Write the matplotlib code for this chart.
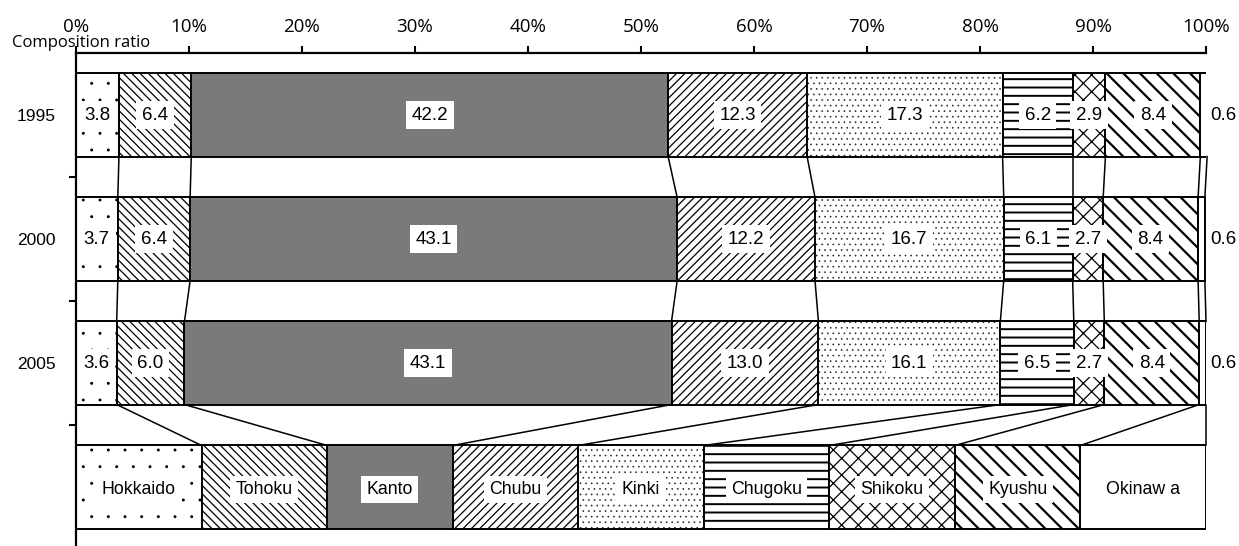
import numpy as np
import matplotlib
matplotlib.use("Agg")
import matplotlib.pyplot as plt
import matplotlib.transforms as mtransforms
import matplotlib.hatch as mhatch

plt.rcParams['font.family'] = ['Liberation Sans', 'DejaVu Sans']
plt.rcParams['hatch.linewidth'] = 1.0
# finer dot texture for the '.' hatch
mhatch.SmallFilledCircles.size = 0.05

# Regional composition ratio (%) by year
years = ["1995", "2000", "2005"]
regions = ["Hokkaido", "Tohoku", "Kanto", "Chubu", "Kinki",
           "Chugoku", "Shikoku", "Kyushu", "Okinawa"]
region_labels = ["Hokkaido", "Tohoku", "Kanto", "Chubu", "Kinki",
                 "Chugoku", "Shikoku", "Kyushu", "Okinaw a"]
share_1995 = [3.8, 6.4, 42.2, 12.3, 17.3, 6.2, 2.9, 8.4, 0.6]
share_2000 = [3.7, 6.4, 43.1, 12.2, 16.7, 6.1, 2.7, 8.4, 0.6]
share_2005 = [3.6, 6.0, 43.1, 13.0, 16.1, 6.5, 2.7, 8.4, 0.6]
shares = [share_1995, share_2000, share_2005]
x_ticks = [0, 10, 20, 30, 40, 50, 60, 70, 80, 90, 100]

# fill style per region: (facecolor, hatch, hatch linewidth)
styles = {
    "Hokkaido": ("white", ".", 0.9),
    "Tohoku": ("white", "\\\\\\\\", 0.9),
    "Kanto": ("#7a7a7a", None, 1.0),
    "Chubu": ("white", "////", 0.9),
    "Kinki": ("white", "...", 0.8),
    "Chugoku": ("white", "--", 1.4),
    "Shikoku": ("white", "xx", 0.9),
    "Kyushu": ("white", "\\\\", 1.6),
    "Okinawa": ("white", None, 1.0),
}

fig = plt.figure(figsize=(12.39, 5.46), dpi=100)
ax = fig.add_axes([76 / 1239, -3 / 546, 1130 / 1239, 496 / 546])
ax.set_xlim(0, 100)
ax.set_ylim(4, 0)

bar_h = 0.67
rows = [0.5, 1.5, 2.5]
legend_row = 3.5
box = dict(boxstyle='square,pad=0.3', fc='white', ec='none')


def draw_segment(left, width, y, region):
    fc, hatch, hlw = styles[region]
    with plt.rc_context({'hatch.linewidth': hlw}):
        ax.barh(y, width, left=left, height=bar_h, color=fc,
                edgecolor='black', linewidth=1.4, hatch=hatch, zorder=2)


cums = []
for y, vals in zip(rows, shares):
    edges = np.concatenate([[0], np.cumsum(vals)])
    cums.append(edges)
    for k, reg in enumerate(regions):
        draw_segment(edges[k], vals[k], y, reg)
        cx = edges[k] + vals[k] / 2
        if reg == "Okinawa":
            ax.text(100.4, y, f"{vals[k]:.1f}", ha='left', va='center',
                    fontsize=13.5, zorder=5, clip_on=False)
        else:
            ax.text(cx, y, f"{vals[k]:.1f}", ha='center', va='center',
                    fontsize=13.5, zorder=5, bbox=box)

# legend row with equal-width boxes
n = len(regions)
leg_edges = np.linspace(0, 100, n + 1)
cums.append(leg_edges)
for k, reg in enumerate(regions):
    draw_segment(leg_edges[k], 100 / n, legend_row, reg)
    cx = (leg_edges[k] + leg_edges[k + 1]) / 2
    ax.text(cx, legend_row + 0.02, region_labels[k], ha='center', va='center',
            fontsize=12.8, zorder=5,
            bbox=None if reg == "Okinawa" else box)

# connector lines between consecutive rows
all_rows = rows + [legend_row]
for i in range(len(all_rows) - 1):
    y0 = all_rows[i] + bar_h / 2
    y1 = all_rows[i + 1] - bar_h / 2
    for k in range(1, n + 1):
        ax.plot([cums[i][k], cums[i + 1][k]], [y0, y1], color='black',
                linewidth=1.1, zorder=3, clip_on=False)

# year labels
trans = mtransforms.blended_transform_factory(ax.transAxes, ax.transData)
for y, yr in zip(rows, years):
    ax.text(-0.018, y + 0.01, yr, transform=trans, ha='right', va='center',
            fontsize=12.5)

# axes styling
ax.xaxis.tick_top()
ax.set_xticks(x_ticks)
ax.set_xticklabels([f"{v}%" for v in x_ticks], fontsize=13.5,
                   fontfamily='Open Sans')
ax.tick_params(axis='x', direction='out', length=5, width=1.5, pad=7)
ax.set_yticks([1, 2, 3])
ax.set_yticklabels([])
ax.tick_params(axis='y', direction='out', length=5, width=1.5)
for side in ['right', 'bottom']:
    ax.spines[side].set_visible(False)
for side in ['top', 'left']:
    ax.spines[side].set_linewidth(1.6)

fig.text(12 / 1239, 1 - 43 / 546, "Composition ratio", fontsize=12,
         fontfamily='Open Sans', ha='left', va='center')

fig.savefig("out.png", dpi=100)
